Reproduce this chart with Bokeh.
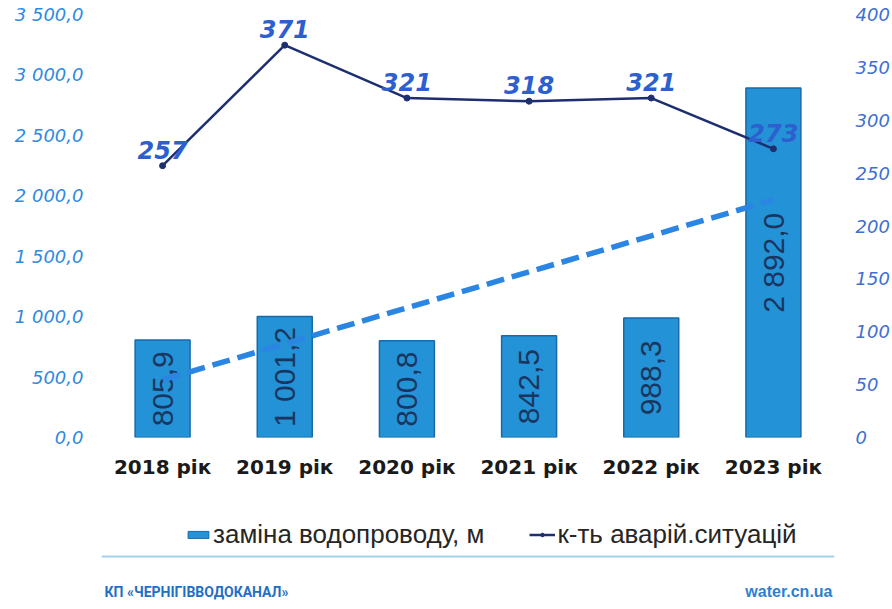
import numpy as np
from bokeh.plotting import figure
from bokeh.models import (FactorRange, Range1d, LinearAxis, FixedTicker, ColumnDataSource,
                          Legend, LegendItem)
from bokeh.core.properties import value
from bokeh.layouts import column
from bokeh.embed import file_html
from bokeh.resources import INLINE

# ---------------- data ----------------
years = ["2018 рік", "2019 рік", "2020 рік", "2021 рік", "2022 рік", "2023 рік"]
pipe_replaced_m = [805.9, 1001.2, 800.8, 842.5, 988.3, 2892.0]
emergencies = [257, 371, 321, 318, 321, 273]
left_ticks = [0, 500, 1000, 1500, 2000, 2500, 3000, 3500]
left_tick_labels = ["0,0", "500,0", "1 000,0", "1 500,0", "2 000,0", "2 500,0", "3 000,0", "3 500,0"]
right_ticks = [0, 50, 100, 150, 200, 250, 300, 350, 400]
right_tick_labels = ["0", "50", "100", "150", "200", "250", "300", "350", "400"]
legend_labels = ["заміна водопроводу, м", "к-ть аварій.ситуацій"]
footer_left = "КП «ЧЕРНІГІВВОДОКАНАЛ»"
footer_right = "water.cn.ua"


def fmt(v):
    s = f"{v:,.1f}"
    return s.replace(",", " ").replace(".", ",")


idx = np.arange(len(years))
k, b = np.polyfit(idx, pipe_replaced_m, 1)
trend = k * idx + b

src = ColumnDataSource(dict(
    year=years,
    pipe=pipe_replaced_m,
    half=[v / 2 for v in pipe_replaced_m],
    pipe_lbl=[fmt(v) for v in pipe_replaced_m],
    em=emergencies,
    em_lbl=[str(v) for v in emergencies],
    trend=list(trend),
))

# ---------------- colours ----------------
BAR = "#2392d6"
BAR_EDGE = "#1a6aa6"
LINE = "#1d2f70"
TREND = "#2b86e3"
LEFT_TXT = "#2f8ae0"
RIGHT_TXT = "#3f6fcf"
PT_TXT = "#2d5fcf"
LOGO = "#1f6fc5"

W = 892
H1 = 481
H2 = 128
BL, BR = 101, 57

p = figure(width=W, height=H1, x_range=FactorRange(*years), y_range=Range1d(0, 3500),
           output_backend="svg", toolbar_location=None,
           min_border_left=BL, min_border_right=BR, min_border_top=14, min_border_bottom=44)
p.extra_y_ranges = {"right": Range1d(0, 400)}
p.outline_line_color = None
p.xgrid.grid_line_color = None
p.ygrid.grid_line_color = None
p.background_fill_color = "white"
p.border_fill_color = "white"


def plain(ax):
    ax.axis_line_color = None
    ax.major_tick_line_color = None
    ax.major_tick_out = 0
    ax.major_tick_in = 0
    ax.minor_tick_line_color = None
    ax.minor_tick_out = 0
    ax.minor_tick_in = 0


# x axis (categories)
xa = p.xaxis[0]
plain(xa)
xa.major_label_standoff = 17
xa.major_label_text_font = "DejaVu Sans"
xa.major_label_text_font_style = "bold"
xa.major_label_text_font_size = "20px"
xa.major_label_text_color = "#1a1a1a"

# left axis
ya = p.yaxis[0]
plain(ya)
ya.ticker = FixedTicker(ticks=left_ticks)
ya.major_label_overrides = dict(zip(left_ticks, left_tick_labels))
ya.major_label_standoff = 18
ya.major_label_text_font = "DejaVu Sans"
ya.major_label_text_font_style = "italic"
ya.major_label_text_font_size = "18px"
ya.major_label_text_color = LEFT_TXT

# right axis
ra = LinearAxis(y_range_name="right", ticker=FixedTicker(ticks=right_ticks))
plain(ra)
ra.major_label_overrides = dict(zip(right_ticks, right_tick_labels))
ra.major_label_standoff = 21
ra.major_label_text_font = "DejaVu Sans"
ra.major_label_text_font_style = "italic"
ra.major_label_text_font_size = "18px"
ra.major_label_text_color = RIGHT_TXT
p.add_layout(ra, "right")

# bars
p.vbar(x="year", top="pipe", width=0.45, source=src, fill_color=BAR,
       line_color=BAR_EDGE, line_width=1.5)
p.text(x="year", y="half", text="pipe_lbl", source=src, angle=np.pi / 2,
       text_align="center", text_baseline="middle",
       text_font=value("Liberation Sans"), text_font_size="30px", text_color="#1a3660")

# linear trend of bars
p.line(x="year", y="trend", source=src, line_color=TREND, line_width=5.5,
       line_dash="18 8")

# emergencies line
p.line(x="year", y="em", source=src, y_range_name="right", line_color=LINE, line_width=2.5)
p.scatter(x="year", y="em", source=src, y_range_name="right", size=6,
          fill_color=LINE, line_color=LINE)
p.text(x="year", y="em", text="em_lbl", source=src, y_range_name="right",
       text_align="center", text_baseline="bottom", y_offset=-7,
       text_font=value("DejaVu Sans"), text_font_style="bold italic",
       text_font_size="24px", text_color=PT_TXT)

# ---------------- footer figure: legend, separator, branding ----------------
# data coordinates of this figure equal page pixels
f = figure(width=W, height=H2, x_range=Range1d(BL, W - BR), y_range=Range1d(H1 + H2, H1),
           x_axis_location=None, y_axis_location=None,
           output_backend="svg", toolbar_location=None,
           min_border_left=BL, min_border_right=BR, min_border_top=0, min_border_bottom=0)
f.grid.grid_line_color = None
f.outline_line_color = None
f.background_fill_color = "white"
f.border_fill_color = "white"

# legend swatches come from hidden copies of the chart's own glyphs
fs = ColumnDataSource(dict(x=list(idx), pipe=pipe_replaced_m, em=emergencies))
lb = f.vbar(x="x", top="pipe", width=0.45, source=fs, fill_color=BAR,
            line_color=BAR_EDGE, line_width=1, visible=False)
ll = f.line(x="x", y="em", source=fs, line_color=LINE, line_width=2.5, visible=False)
lp = f.scatter(x="x", y="em", source=fs, size=5, fill_color=LINE, line_color=LINE,
               visible=False)

leg = Legend(items=[LegendItem(label=legend_labels[0], renderers=[lb]),
                    LegendItem(label=legend_labels[1], renderers=[ll, lp])],
             location=(185 - BL, H1 + H2 - 550), orientation="horizontal",
             glyph_width=26, glyph_height=9, label_standoff=2, spacing=45,
             padding=0, margin=0, border_line_color=None, background_fill_alpha=0,
             inactive_fill_alpha=0,
             label_text_font="Liberation Sans", label_text_font_size="26px",
             label_text_color="#262626")
f.add_layout(leg, "center")

f.segment(x0=[BL], y0=[556], x1=[W - BR], y1=[556], line_color="#9fd0f0", line_width=2)

f.text(x=[BL + 3], y=[591], text=[footer_left], text_align="left", text_baseline="middle",
       text_font=value("Roboto"), text_font_style="bold", text_font_size="14px",
       text_color=LOGO)
f.text(x=[W - BR - 2], y=[591], text=[footer_right], text_align="right",
       text_baseline="middle",
       text_font=value("Liberation Sans"), text_font_style="bold", text_font_size="16px",
       text_color="#2f7fd0")

layout = column(p, f, spacing=0)
open("out.html", "w").write(file_html(layout, INLINE))
